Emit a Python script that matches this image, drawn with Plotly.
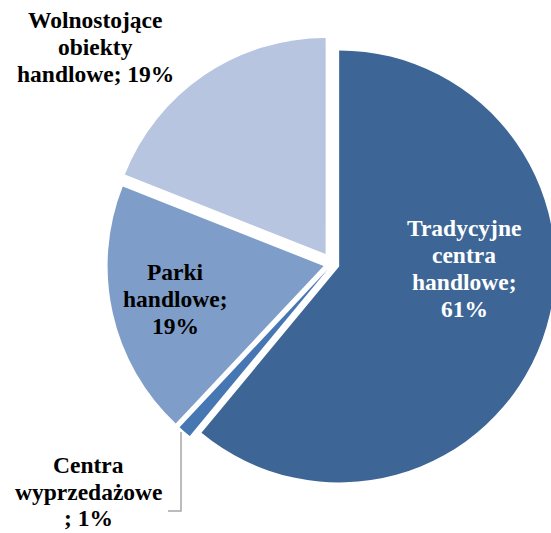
import plotly.graph_objects as go

# Struktura powierzchni handlowej według formatu obiektu (%)
categories = [
    "Tradycyjne centra handlowe",
    "Centra wyprzedażowe",
    "Parki handlowe",
    "Wolnostojące obiekty handlowe",
]
values = [61, 1, 19, 19]

# Tekst etykiet podzielony na wiersze
label_lines = [
    ["Tradycyjne", "centra", "handlowe;", "{v}%"],
    ["Centra", "wyprzedażowe", "; {v}%"],
    ["Parki", "handlowe;", "{v}%"],
    ["Wolnostojące", "obiekty", "handlowe; {v}%"],
]

colors = ["#3D6696", "#4677B3", "#7E9DC8", "#B7C5E0"]
pulls = [0.033, 0.035, 0.042, 0.056]
label_colors = ["white", "black", "black", "black"]

W, H = 561, 533
# środek x, y pierwszego wiersza i odstęp wierszy każdej etykiety (px)
label_pos = [(464, 228, 27), (89, 465, 26.5), (175, 272, 27), (95, 20, 27)]
font_size = 23.5

cx, cy, r = 332, 264, 216
half = r * (1 + max(pulls))

fig = go.Figure(
    go.Pie(
        labels=categories,
        values=values,
        sort=False,
        direction="clockwise",
        rotation=0,
        pull=pulls,
        marker=dict(colors=colors, line=dict(width=0)),
        textinfo="none",
        hoverinfo="label+percent",
        domain=dict(
            x=[(cx - half) / W, 1.0],
            y=[1 - (cy + half) / H, 1 - (cy - half) / H],
        ),
    )
)

for lines, (px, py, step), col, v in zip(label_lines, label_pos, label_colors, values):
    for i, s in enumerate(lines):
        fig.add_annotation(
            x=px / W, y=1 - (py + i * step) / H, xref="paper", yref="paper",
            text="<b>" + s.format(v=v) + "</b>", showarrow=False,
            xanchor="center", yanchor="middle",
            font=dict(family="Liberation Serif", size=font_size, color=col),
        )

# łącznik etykiety najmniejszego wycinka
pts = [(181, 432), (181, 511), (168, 511)]
path = "M " + " L ".join(f"{x / W:.5f},{1 - y / H:.5f}" for x, y in pts)
fig.add_shape(type="path", path=path, xref="paper", yref="paper",
              line=dict(color="#A6A6A6", width=1.5))

fig.update_layout(
    width=W, height=H,
    margin=dict(l=0, r=0, t=0, b=0),
    showlegend=False,
    paper_bgcolor="white",
    plot_bgcolor="white",
)

fig.write_html("out.html", post_script="document.body.style.margin='0';document.body.style.overflow='hidden';")
